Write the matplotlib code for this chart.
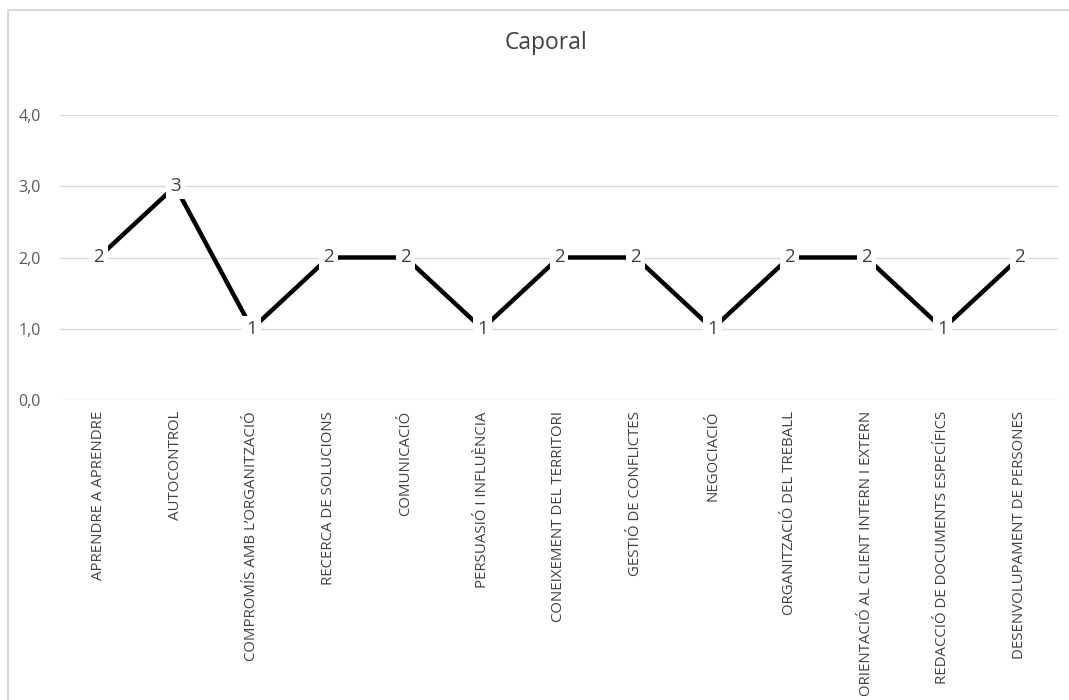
import matplotlib
matplotlib.use("Agg")
import matplotlib.pyplot as plt
from matplotlib.patches import Rectangle

categories = [
    "APRENDRE A APRENDRE",
    "AUTOCONTROL",
    "COMPROMÍS AMB L’ORGANITZACIÓ",
    "RECERCA DE SOLUCIONS",
    "COMUNICACIÓ",
    "PERSUASIÓ I INFLUÈNCIA",
    "CONEIXEMENT DEL TERRITORI",
    "GESTIÓ DE CONFLICTES",
    "NEGOCIACIÓ",
    "ORGANITZACIÓ DEL TREBALL",
    "ORIENTACIÓ AL CLIENT INTERN I EXTERN",
    "REDACCIÓ DE DOCUMENTS ESPECÍFICS",
    "DESENVOLUPAMENT DE PERSONES",
]
values = [2, 3, 1, 2, 2, 1, 2, 2, 1, 2, 2, 1, 2]
yticks = [0.0, 1.0, 2.0, 3.0, 4.0]
title = "Caporal"

plt.rcParams['font.family'] = ['Open Sans', 'DejaVu Sans']

W, H = 1069, 700
fig = plt.figure(figsize=(W / 100, H / 100), dpi=100)

# chart border
fig.patches.append(Rectangle((8 / W, -0.05), 1.2, 1 - 9.5 / H + 0.05,
                             transform=fig.transFigure, fill=False,
                             edgecolor='#d9d9d9', linewidth=1.5))

left, right = 60 / W, 1058 / W
bottom, top = 1 - 400 / H, 1 - 115 / H
ax = fig.add_axes([left, bottom, right - left, top - bottom])

x = list(range(len(categories)))
ax.plot(x, values, color='black', linewidth=3.2, solid_joinstyle='miter', zorder=3)
for xi, v in zip(x, values):
    ax.text(xi, v, str(v), ha='center', va='center', fontsize=13.5, color='#404040',
            zorder=4, bbox=dict(boxstyle='square,pad=0.22', facecolor='white', edgecolor='none'))

ax.set_xlim(-0.5, len(categories) - 0.5)
ax.set_ylim(0, 4)
ax.set_yticks(yticks)
ax.set_yticklabels([f"{t:.1f}".replace('.', ',') for t in yticks], fontsize=11.5, color='#595959')
ax.set_xticks(x)
ax.set_xticklabels(categories, rotation=90, fontsize=10.8, color='#404040', va='top', ha='center')
ax.tick_params(axis='both', length=0)
ax.tick_params(axis='x', pad=8)
ax.tick_params(axis='y', pad=14)
ax.grid(axis='y', color='#d9d9d9', linewidth=1)
ax.set_axisbelow(True)
for s in ax.spines.values():
    s.set_visible(False)

fig.text(546 / W, 1 - 43 / H, title, ha='center', va='center',
         fontsize=16.5, color='#404040')

fig.savefig("out.png", dpi=100)
